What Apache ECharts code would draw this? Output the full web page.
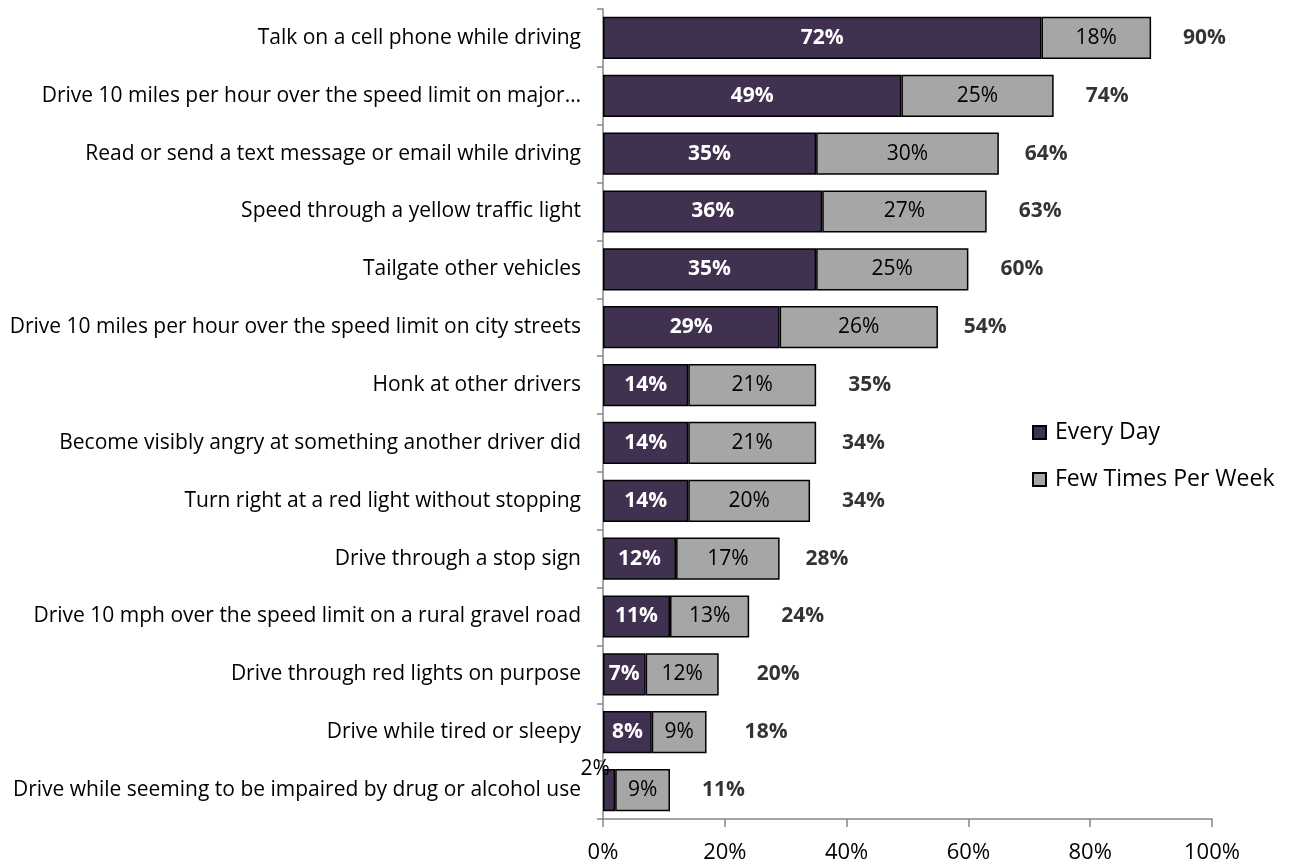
<!DOCTYPE html>
<html>
<head>
<meta charset="utf-8">
<script src="https://cdn.jsdelivr.net/npm/echarts@6/dist/echarts.min.js"></script>
<style>
  html, body { margin: 0; padding: 0; background: #fff; }
  #chart { width: 1294px; height: 865px; }
</style>
</head>
<body>
<div id="chart"></div>
<script>
// Driving behaviours, top to bottom
const behaviours = [
  'Talk on a cell phone while driving',
  'Drive 10 miles per hour over the speed limit on major\u2026',
  'Read or send a text message or email while driving',
  'Speed through a yellow traffic light',
  'Tailgate other vehicles',
  'Drive 10 miles per hour over the speed limit on city streets',
  'Honk at other drivers',
  'Become visibly angry at something another driver did',
  'Turn right at a red light without stopping',
  'Drive through a stop sign',
  'Drive 10 mph over the speed limit on a rural gravel road',
  'Drive through red lights on purpose',
  'Drive while tired or sleepy',
  'Drive while seeming to be impaired by drug or alcohol use'
];
const everyDay      = [72, 49, 35, 36, 35, 29, 14, 14, 14, 12, 11, 7, 8, 2];
const fewTimesWeek  = [18, 25, 30, 27, 25, 26, 21, 21, 20, 17, 13, 12, 9, 9];
const totals        = [90, 74, 64, 63, 60, 54, 35, 34, 34, 28, 24, 20, 18, 11];
const xTicks = [0, 20, 40, 60, 80, 100];

const FONT = '"Open Sans", "Noto Sans", sans-serif';
const PURPLE = '#403151';
const GREY = '#A6A6A6';

const chart = echarts.init(document.getElementById('chart'));

const everyDayData = everyDay.map(function (v) {
  if (v < 5) {
    // too thin for an inside label: put it above the bar
    return { value: v, label: { position: 'top', color: '#000', fontWeight: 'normal', offset: [-14, 16] } };
  }
  return v;
});

chart.setOption({
  animation: false,
  textStyle: { fontFamily: FONT },
  grid: { left: 603, right: 82, top: 9, bottom: 46, containLabel: false },
  legend: {
    orient: 'vertical',
    left: 1027,
    top: 416,
    itemWidth: 13,
    itemHeight: 13,
    itemGap: 24,
    icon: 'rect',
    textStyle: { fontFamily: FONT, fontSize: 23, color: '#000', padding: [0, 0, 0, 4] },
    data: ['Every Day', 'Few Times Per Week']
  },
  xAxis: {
    type: 'value',
    min: xTicks[0],
    max: xTicks[xTicks.length - 1],
    interval: 20,
    axisLine: { show: true, lineStyle: { color: '#868686', width: 1.5 } },
    axisTick: { show: true, length: 8, lineStyle: { color: '#868686', width: 1.5 } },
    splitLine: { show: false },
    axisLabel: { formatter: '{value}%', fontFamily: FONT, fontSize: 22, color: '#000', margin: 23 }
  },
  yAxis: {
    type: 'category',
    inverse: true,
    data: behaviours,
    axisLine: { show: true, lineStyle: { color: '#868686', width: 1.5 } },
    axisTick: { show: true, length: 6, lineStyle: { color: '#868686', width: 1.5 } },
    axisLabel: { fontFamily: FONT, fontSize: 21, color: '#000', margin: 22 }
  },
  series: [
    {
      name: 'Every Day',
      type: 'bar',
      stack: 'share',
      barCategoryGap: '27%',
      data: everyDayData,
      itemStyle: { color: PURPLE, borderColor: '#000', borderWidth: 1.5 },
      label: { show: true, position: 'inside', formatter: '{c}%', color: '#fff', fontWeight: 'bold', fontSize: 21, fontFamily: FONT }
    },
    {
      name: 'Few Times Per Week',
      type: 'bar',
      stack: 'share',
      data: fewTimesWeek,
      itemStyle: { color: GREY, borderColor: '#000', borderWidth: 1.5 },
      label: { show: true, position: 'inside', formatter: '{c}%', color: '#000', fontSize: 21, fontFamily: FONT }
    },
    {
      name: 'Total',
      type: 'scatter',
      data: totals,
      symbolSize: 0,
      silent: true,
      label: { show: true, position: 'right', distance: 32, formatter: '{c}%', color: '#000', fontWeight: 'bold', fontSize: 21, fontFamily: FONT }
    }
  ]
});
</script>
</body>
</html>
